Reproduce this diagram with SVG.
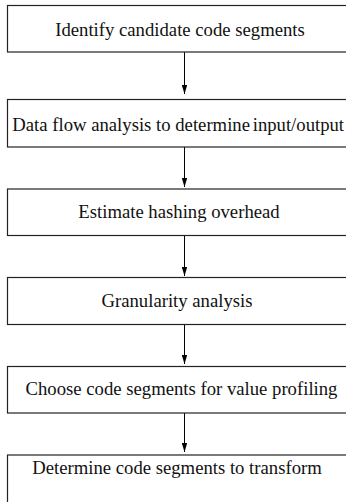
<svg xmlns="http://www.w3.org/2000/svg" width="346" height="502" viewBox="0 0 346 502">
<defs>
<marker id="ah" markerWidth="9" markerHeight="5.5" refX="9" refY="2.75" orient="auto" markerUnits="userSpaceOnUse" viewBox="0 0 9 5.5">
<path d="M0,0 L9,2.75 L0,5.5 Z" fill="#000"/>
</marker>
</defs>
<style>
.box{fill:#fff;stroke:#222;stroke-width:1.2}
.lbl{fill:#111;text-anchor:middle}
.edge{stroke:#000;stroke-width:1;fill:none}
</style>
<rect width="346" height="502" fill="#fff"/>
<g id="connectors">
<line class="edge" x1="184.5" y1="52" x2="184.5" y2="94" marker-end="url(#ah)"/>
<line class="edge" x1="184.5" y1="147" x2="184.5" y2="187" marker-end="url(#ah)"/>
<line class="edge" x1="184.5" y1="236" x2="184.5" y2="276" marker-end="url(#ah)"/>
<line class="edge" x1="184.5" y1="325" x2="184.5" y2="364" marker-end="url(#ah)"/>
<line class="edge" x1="184.5" y1="413" x2="184.5" y2="452" marker-end="url(#ah)"/>
</g>
<g font-family="'Liberation Serif', 'Times New Roman', serif" font-size="18.7">
<g id="n1"><rect class="box" x="7.5" y="5.5" width="360" height="46.5"/><text class="lbl" x="180" y="36">Identify candidate code segments</text></g>
<g id="n2"><rect class="box" x="7.5" y="99.5" width="360" height="47.5"/><text class="lbl" x="12.3" y="131" text-anchor="start" style="text-anchor:start">Data flow analysis to determine<tspan x="252.7">input/output</tspan></text></g>
<g id="n3"><rect class="box" x="7.5" y="189" width="360" height="46.5"/><text class="lbl" x="179" y="218">Estimate hashing overhead</text></g>
<g id="n4"><rect class="box" x="7.5" y="277.5" width="360" height="47"/><text class="lbl" x="177" y="307">Granularity analysis</text></g>
<g id="n5"><rect class="box" x="7.5" y="366.5" width="360" height="46.5"/><text class="lbl" x="181.5" y="395">Choose code segments for value profiling</text></g>
<g id="n6"><rect class="box" x="7.5" y="455" width="360" height="60"/><text class="lbl" x="177" y="473.5">Determine code segments to transform</text></g>
</g>
</svg>
